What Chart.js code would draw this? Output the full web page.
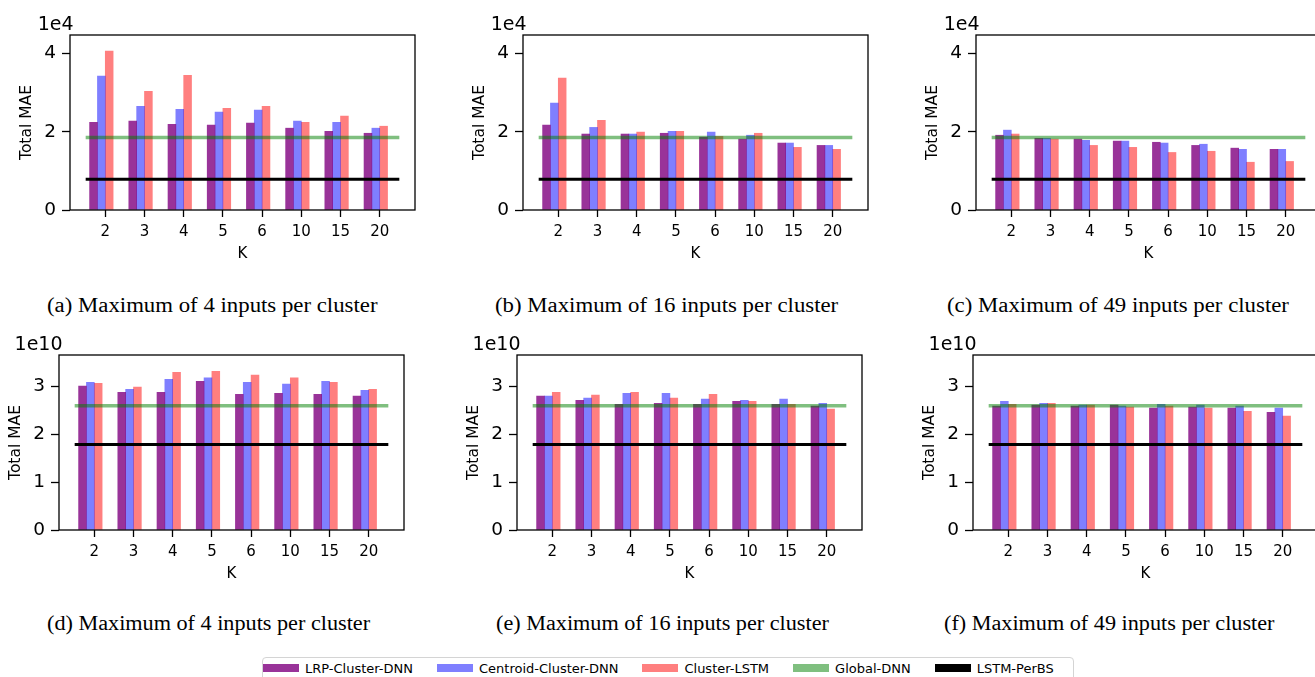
<!DOCTYPE html>
<html>
<head>
<meta charset="utf-8">
<script src="https://cdn.jsdelivr.net/npm/chart.js@4.4.1/dist/chart.umd.min.js"></script>
<style>
  html, body { margin: 0; padding: 0; width: 1315px; height: 677px; overflow: hidden; background: #fff; }
  canvas { position: absolute; }
  .cap { position: absolute; font-family: 'Liberation Serif', 'Times New Roman', serif; font-size: 20px; line-height: 20px;
         white-space: nowrap; color: #000; transform-origin: left center; transform: scaleX(1.14); }
  .cap.low { transform: scaleX(1.11); }
  #legendFrame { position: absolute; left: 262px; top: 657px; width: 812px; height: 40px; border: 1px solid #d4d4d4;
                 border-radius: 4px; box-sizing: border-box; }
  #legend { position: absolute; left: 263px; top: 659px; height: 18px; display: flex; align-items: center;
            font-family: 'DejaVu Sans', sans-serif; font-size: 13px; color: #000; white-space: nowrap; }
  #legend .box { display: inline-block; width: 36px; height: 8px; margin-right: 6px; }
  #legend .lab { margin-right: 24px; }
</style>
</head>
<body>

<canvas id="pa" width="415" height="270" style="left:10px;top:0px"></canvas>
<canvas id="pb" width="415" height="270" style="left:463px;top:0px"></canvas>
<canvas id="pc" width="415" height="270" style="left:916px;top:0px"></canvas>
<canvas id="pd" width="415" height="270" style="left:-1px;top:320px"></canvas>
<canvas id="pe" width="415" height="270" style="left:457px;top:320px"></canvas>
<canvas id="pf" width="415" height="270" style="left:913px;top:320px"></canvas>

<div class="cap" style="left:47px;top:295px">(a) Maximum of 4 inputs per cluster</div>
<div class="cap" style="left:495px;top:295px">(b) Maximum of 16 inputs per cluster</div>
<div class="cap" style="left:947px;top:295px">(c) Maximum of 49 inputs per cluster</div>
<div class="cap low" style="left:47px;top:613px">(d) Maximum of 4 inputs per cluster</div>
<div class="cap low" style="left:496px;top:613px">(e) Maximum of 16 inputs per cluster</div>
<div class="cap low" style="left:944px;top:613px">(f) Maximum of 49 inputs per cluster</div>

<div id="legendFrame"></div>
<div id="legend"></div>

<script>
// K values on the x axis
const kLabels = ['2', '3', '4', '5', '6', '10', '15', '20'];

const seriesNames = ['LRP-Cluster-DNN', 'Centroid-Cluster-DNN', 'Cluster-LSTM', 'Global-DNN', 'LSTM-PerBS'];

// (a) max 4 inputs per cluster, MAE
const lrpA  = [2.24e4, 2.27e4, 2.19e4, 2.17e4, 2.22e4, 2.09e4, 2.01e4, 1.96e4];
const centA = [3.42e4, 2.65e4, 2.57e4, 2.50e4, 2.55e4, 2.27e4, 2.24e4, 2.09e4];
const lstmA = [4.06e4, 3.03e4, 3.44e4, 2.60e4, 2.65e4, 2.24e4, 2.40e4, 2.14e4];
// (b) max 16 inputs per cluster
const lrpB  = [2.17e4, 1.94e4, 1.94e4, 1.96e4, 1.86e4, 1.81e4, 1.71e4, 1.65e4];
const centB = [2.73e4, 2.11e4, 1.94e4, 2.01e4, 1.99e4, 1.91e4, 1.71e4, 1.65e4];
const lstmB = [3.37e4, 2.29e4, 1.99e4, 2.01e4, 1.88e4, 1.96e4, 1.60e4, 1.55e4];
// (c) max 49 inputs per cluster
const lrpC  = [1.91e4, 1.83e4, 1.81e4, 1.76e4, 1.73e4, 1.65e4, 1.58e4, 1.55e4];
const centC = [2.04e4, 1.83e4, 1.78e4, 1.76e4, 1.71e4, 1.68e4, 1.55e4, 1.55e4];
const lstmC = [1.94e4, 1.81e4, 1.65e4, 1.60e4, 1.47e4, 1.50e4, 1.22e4, 1.24e4];
const globalTop = 1.854e4;
const perbsTop = 0.787e4;

// (d) max 4 inputs per cluster, second metric
const lrpD  = [3.01e10, 2.88e10, 2.88e10, 3.11e10, 2.84e10, 2.86e10, 2.84e10, 2.80e10];
const centD = [3.09e10, 2.94e10, 3.15e10, 3.18e10, 3.09e10, 3.05e10, 3.11e10, 2.92e10];
const lstmD = [3.07e10, 2.99e10, 3.30e10, 3.32e10, 3.24e10, 3.18e10, 3.09e10, 2.94e10];
// (e) max 16 inputs per cluster
const lrpE  = [2.80e10, 2.71e10, 2.63e10, 2.65e10, 2.63e10, 2.69e10, 2.63e10, 2.59e10];
const centE = [2.80e10, 2.76e10, 2.86e10, 2.86e10, 2.74e10, 2.71e10, 2.74e10, 2.65e10];
const lstmE = [2.88e10, 2.82e10, 2.88e10, 2.76e10, 2.84e10, 2.69e10, 2.63e10, 2.53e10];
// (f) max 49 inputs per cluster
const lrpF  = [2.59e10, 2.61e10, 2.59e10, 2.61e10, 2.55e10, 2.57e10, 2.55e10, 2.46e10];
const centF = [2.69e10, 2.65e10, 2.61e10, 2.59e10, 2.63e10, 2.61e10, 2.59e10, 2.55e10];
const lstmF = [2.63e10, 2.65e10, 2.61e10, 2.57e10, 2.59e10, 2.55e10, 2.48e10, 2.38e10];
const globalBottom = 2.60e10;
const perbsBottom = 1.79e10;

const yTicksTop = [0, 2e4, 4e4];
const yTicksBottom = [0, 1e10, 2e10, 3e10];

const colors = ['rgba(128,0,128,0.8)', 'rgba(0,0,255,0.5)', 'rgba(255,0,0,0.5)', 'rgba(0,128,0,0.5)', '#000000'];

Chart.defaults.font.family = "'DejaVu Sans', sans-serif";
Chart.defaults.color = '#000';

// box round the plot and the matplotlib style offset text (1e4 / 1e10)
const framePlugin = {
    id: 'frame',
    afterDatasetsDraw(chart, args, opts) {
        const ctx = chart.ctx;
        const a = chart.chartArea;
        ctx.save();
        ctx.strokeStyle = '#000';
        ctx.lineWidth = 1.3;
        ctx.strokeRect(a.left, a.top, a.right - a.left, a.bottom - a.top);
        ctx.font = "19px 'DejaVu Sans'";
        ctx.fillStyle = '#000';
        ctx.textAlign = 'right';
        ctx.textBaseline = 'alphabetic';
        ctx.fillText(opts.text, a.left + 3.5, a.top - 5);
        ctx.restore();
    }
};

function barData(values, shift) {
    return values.map((v, i) => ({ x: i + shift, y: v }));
}

function hline(value) {
    return [{ x: -0.5, y: value }, { x: kLabels.length - 0.5, y: value }];
}

function makePanel(id, lrp, cent, lstm, glob, perbs, yMax, yTicks, factor, offsetText) {
    new Chart(document.getElementById(id), {
        type: 'bar',
        data: {
            datasets: [
                { type: 'line', label: seriesNames[4], data: hline(perbs), borderColor: colors[4], borderWidth: 3,
                  pointRadius: 0, borderCapStyle: 'butt', order: 0 },
                { type: 'line', label: seriesNames[3], data: hline(glob), borderColor: colors[3], borderWidth: 3.5,
                  pointRadius: 0, borderCapStyle: 'butt', order: 0 },
                { label: seriesNames[0], data: barData(lrp, -0.3), backgroundColor: colors[0], order: 1 },
                { label: seriesNames[1], data: barData(cent, -0.1), backgroundColor: colors[1], order: 1 },
                { label: seriesNames[2], data: barData(lstm, 0.1), backgroundColor: colors[2], order: 1 }
            ]
        },
        options: {
            responsive: false,
            animation: false,
            devicePixelRatio: 1,
            layout: { padding: { top: 35, right: 10, bottom: 0, left: 0 } },
            datasets: { bar: { grouped: false, barPercentage: 1, categoryPercentage: 1, borderWidth: 0 } },
            plugins: {
                legend: { display: false },
                tooltip: { enabled: false },
                frame: { text: offsetText }
            },
            scales: {
                x: {
                    type: 'linear',
                    min: -0.9,
                    max: kLabels.length - 0.1,
                    offset: false,
                    afterBuildTicks: (scale) => { scale.ticks = kLabels.map((_, i) => ({ value: i })); },
                    afterFit: (scale) => { scale.height = 60; },
                    ticks: {
                        callback: (v) => kLabels[v],
                        font: { size: 15 },
                        padding: 6,
                        maxRotation: 0,
                        autoSkip: false
                    },
                    grid: { display: true, drawOnChartArea: false, drawTicks: true, tickLength: 7,
                            tickColor: '#000', tickWidth: 1.3, offset: false },
                    border: { display: false },
                    title: { display: true, text: 'K', font: { size: 15, lineHeight: 1 }, padding: { top: 0, bottom: 8.5 } }
                },
                y: {
                    min: 0,
                    max: yMax,
                    afterBuildTicks: (scale) => { scale.ticks = yTicks.map(v => ({ value: v })); },
                    afterFit: (scale) => { scale.width = 60; },
                    ticks: {
                        callback: (v) => String(v / factor),
                        font: { size: 18.5 },
                        padding: 6
                    },
                    grid: { display: true, drawOnChartArea: false, drawTicks: true, tickLength: 8,
                            tickColor: '#000', tickWidth: 1.3 },
                    border: { display: false },
                    title: { display: true, text: 'Total MAE', font: { size: 15.5, lineHeight: 1 }, padding: { top: 8.75, bottom: 0 } }
                }
            }
        },
        plugins: [framePlugin]
    });
}

makePanel('pa', lrpA, centA, lstmA, globalTop, perbsTop, 4.47e4, yTicksTop, 1e4, '1e4');
makePanel('pb', lrpB, centB, lstmB, globalTop, perbsTop, 4.47e4, yTicksTop, 1e4, '1e4');
makePanel('pc', lrpC, centC, lstmC, globalTop, perbsTop, 4.47e4, yTicksTop, 1e4, '1e4');
makePanel('pd', lrpD, centD, lstmD, globalBottom, perbsBottom, 3.66e10, yTicksBottom, 1e10, '1e10');
makePanel('pe', lrpE, centE, lstmE, globalBottom, perbsBottom, 3.66e10, yTicksBottom, 1e10, '1e10');
makePanel('pf', lrpF, centF, lstmF, globalBottom, perbsBottom, 3.66e10, yTicksBottom, 1e10, '1e10');

// shared legend under the panels
const legend = document.getElementById('legend');
seriesNames.forEach((name, i) => {
    const box = document.createElement('span');
    box.className = 'box';
    box.style.background = colors[i];
    const lab = document.createElement('span');
    lab.className = 'lab';
    lab.textContent = name;
    legend.appendChild(box);
    legend.appendChild(lab);
});
</script>
</body>
</html>
